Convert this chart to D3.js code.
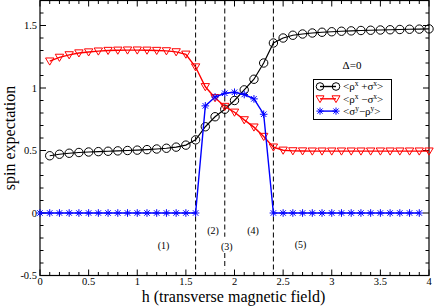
<!DOCTYPE html>
<html><head><meta charset="utf-8">
<script src="https://cdn.jsdelivr.net/npm/d3@7"></script>
<style>body{margin:0;background:#fff}svg{display:block}text{font-family:"Liberation Serif","Times New Roman",serif}</style>
</head><body><svg id="c" width="436" height="306"></svg>
<script>
const hCircle = [0.1,0.2,0.3,0.4,0.5,0.6,0.7,0.8,0.9,1.0,1.1,1.2,1.3,1.4,1.5,1.6,1.7,1.8,1.9,2.0,2.1,2.2,2.3,2.4,2.5,2.6,2.7,2.8,2.9,3.0,3.1,3.2,3.3,3.4,3.5,3.6,3.7,3.8,3.9,4.0];
const sumX = [0.458,0.47,0.478,0.484,0.488,0.491,0.494,0.497,0.5,0.503,0.507,0.512,0.518,0.527,0.543,0.585,0.69,0.77,0.83,0.90,0.985,1.07,1.2,1.36,1.40,1.422,1.432,1.44,1.446,1.45,1.454,1.457,1.46,1.462,1.464,1.466,1.468,1.47,1.471,1.473];
const diffX = [1.215,1.245,1.265,1.28,1.288,1.295,1.3,1.302,1.303,1.303,1.302,1.3,1.297,1.289,1.27,1.168,1.01,0.922,0.852,0.806,0.745,0.687,0.612,0.527,0.502,0.497,0.496,0.495,0.495,0.495,0.495,0.495,0.495,0.495,0.495,0.495,0.495,0.495,0.495,0.495];
const hStar = [0,0.1,0.2,0.3,0.4,0.5,0.6,0.7,0.8,0.9,1.0,1.1,1.2,1.3,1.4,1.5,1.6,1.7,1.8,1.9,2.0,2.1,2.2,2.3,2.4,2.5,2.6,2.7,2.8,2.9,3.0,3.1,3.2,3.3,3.4,3.5,3.6,3.7,3.8,3.9];
const diffY = [0,0,0,0,0,0,0,0,0,0,0,0,0,0,0,0,0,0.857,0.928,0.958,0.966,0.948,0.913,0.79,0,0,0,0,0,0,0,0,0,0,0,0,0,0,0,0];
const vLines = [1.6,1.9,2.4];
const regionLabels = [{t:"(1)",x:1.27,y:-0.26},{t:"(2)",x:1.78,y:-0.14},{t:"(3)",x:1.92,y:-0.265},{t:"(4)",x:2.19,y:-0.14},{t:"(5)",x:2.68,y:-0.255}];
const xTicks = [0,0.5,1,1.5,2,2.5,3,3.5,4];
const xTickLabels = ["0","0.5","1","1.5","2","2.5","3","3.5","4"];
const yTicks = [-0.5,0,0.5,1,1.5];
const yTickLabels = ["-0.5","0","0.5","1","1.5"];

const svg = d3.select("#c");
const L=40, R=429, T=0.5, B=275.5;
const x = d3.scaleLinear().domain([0,4]).range([L,R]);
const y = d3.scaleLinear().domain([-0.5,1.7]).range([B,T]);

// frame
svg.append("rect").attr("x",L).attr("y",T).attr("width",R-L).attr("height",B-T).attr("fill","none").attr("stroke","#000").attr("stroke-width",1.2);

// ticks
const xMinor = d3.range(0,4.001,0.1).filter(v=>Math.abs(v*2-Math.round(v*2))>1e-6);
const yMinor = d3.range(-0.5,1.7001,0.1).filter(v=>Math.abs(v*2-Math.round(v*2))>1e-6);
const tg = svg.append("g").attr("stroke","#000").attr("stroke-width",1);
xTicks.forEach(v=>{tg.append("line").attr("x1",x(v)).attr("x2",x(v)).attr("y1",B).attr("y2",B-6);tg.append("line").attr("x1",x(v)).attr("x2",x(v)).attr("y1",T).attr("y2",T+6);});
xMinor.forEach(v=>{tg.append("line").attr("x1",x(v)).attr("x2",x(v)).attr("y1",B).attr("y2",B-3.5);tg.append("line").attr("x1",x(v)).attr("x2",x(v)).attr("y1",T).attr("y2",T+3.5);});
yTicks.forEach(v=>{tg.append("line").attr("x1",L).attr("x2",L+6).attr("y1",y(v)).attr("y2",y(v));tg.append("line").attr("x1",R).attr("x2",R-6).attr("y1",y(v)).attr("y2",y(v));});
yMinor.forEach(v=>{tg.append("line").attr("x1",L).attr("x2",L+3.5).attr("y1",y(v)).attr("y2",y(v));tg.append("line").attr("x1",R).attr("x2",R-3.5).attr("y1",y(v)).attr("y2",y(v));});

// tick labels
xTicks.forEach((v,i)=>svg.append("text").attr("x",x(v)).attr("y",285).attr("text-anchor","middle").attr("font-size",10.5).text(xTickLabels[i]));
yTicks.forEach((v,i)=>svg.append("text").attr("x",37).attr("y",y(v)+3.6).attr("text-anchor","end").attr("font-size",10.5).text(yTickLabels[i]));

// axis titles
svg.append("text").attr("x",233.5).attr("y",302).attr("text-anchor","middle").attr("font-size",16).text("h (transverse magnetic field)");
svg.append("text").attr("transform",`translate(15,${(T+B)/2}) rotate(-90)`).attr("text-anchor","middle").attr("font-size",16).text("spin expectation");

// dashed lines (the h=1.9 line is interrupted by the "(3)" label and stops short of the axis)
vLines.forEach(v=>{
  const segs = v===1.9 ? [[T,y(-0.19)],[y(-0.32),y(-0.45)]] : [[T,B]];
  segs.forEach(s=>svg.append("line").attr("x1",x(v)).attr("x2",x(v)).attr("y1",s[0]).attr("y2",s[1]).attr("stroke","#000").attr("stroke-width",1).attr("stroke-dasharray","5,3"));
});

// region labels
regionLabels.forEach(d=>svg.append("text").attr("x",x(d.x)).attr("y",y(d.y)+3.5).attr("text-anchor","middle").attr("font-size",10).text(d.t));

const line = d3.line();
function star(g,cx,cy,s,col){
  const p = g.append("g").attr("stroke",col).attr("stroke-width",1);
  p.append("line").attr("x1",cx-s).attr("x2",cx+s).attr("y1",cy).attr("y2",cy);
  p.append("line").attr("x1",cx).attr("x2",cx).attr("y1",cy-s).attr("y2",cy+s);
  const d=s*0.72;
  p.append("line").attr("x1",cx-d).attr("x2",cx+d).attr("y1",cy-d).attr("y2",cy+d);
  p.append("line").attr("x1",cx-d).attr("x2",cx+d).attr("y1",cy+d).attr("y2",cy-d);
}
function tri(g,cx,cy,s,col){
  g.append("path").attr("d",`M${cx-s},${cy-s*0.75}L${cx+s},${cy-s*0.75}L${cx},${cy+s*0.95}Z`).attr("fill","none").attr("stroke",col).attr("stroke-width",1);
}

// black circles series
const gB = svg.append("g");
gB.append("path").attr("d",line(hCircle.map((h,i)=>[x(h),y(sumX[i])]))).attr("fill","none").attr("stroke","#000").attr("stroke-width",1.2);
hCircle.forEach((h,i)=>gB.append("circle").attr("cx",x(h)).attr("cy",y(sumX[i])).attr("r",4.2).attr("fill","none").attr("stroke","#000").attr("stroke-width",1));

// red triangles
const gR = svg.append("g");
gR.append("path").attr("d",line(hCircle.map((h,i)=>[x(h),y(diffX[i])]))).attr("fill","none").attr("stroke","#ff0000").attr("stroke-width",1.4);
hCircle.forEach((h,i)=>tri(gR,x(h),y(diffX[i]),4.2,"#ff0000"));

// blue stars
const gS = svg.append("g");
gS.append("path").attr("d",line(hStar.map((h,i)=>[x(h),y(diffY[i])]))).attr("fill","none").attr("stroke","#0000ff").attr("stroke-width",1.4);
hStar.forEach((h,i)=>star(gS,x(h),y(diffY[i]),3.8,"#0000ff"));

// delta label
svg.append("text").attr("x",352).attr("y",69).attr("text-anchor","middle").attr("font-size",11).text("\u0394=0");

// legend
const lg = svg.append("g");
lg.append("rect").attr("x",313.5).attr("y",79.5).attr("width",78).attr("height",40).attr("fill","#fff").attr("stroke","#000").attr("stroke-width",1);
const leg = [{c:"#000",m:"c",parts:[["<\u03c1",""],["x","sup"],[" +\u03c3",""],["x","sup"],[">",""]]},
             {c:"#ff0000",m:"t",parts:[["<\u03c1",""],["x","sup"],[" \u2212\u03c3",""],["x","sup"],[">",""]]},
             {c:"#0000ff",m:"s",parts:[["<\u03c3",""],["y","sup"],["\u2212\u03c1",""],["y","sup"],[">",""]]}];
leg.forEach((d,i)=>{
  const yy = 86.5 + i*12.3;
  lg.append("line").attr("x1",320).attr("x2",336).attr("y1",yy).attr("y2",yy).attr("stroke",d.c).attr("stroke-width",1.4);
  [320,336].forEach(cx=>{
    if(d.m==="c") lg.append("circle").attr("cx",cx).attr("cy",yy).attr("r",3.8).attr("fill","none").attr("stroke",d.c);
    else if(d.m==="t") tri(lg,cx,yy,4,d.c);
    else star(lg,cx,yy,3.6,d.c);
  });
  const t = lg.append("text").attr("x",343).attr("y",yy+3.8).attr("font-size",11);
  d.parts.forEach((p,k)=>{
    const ts = t.append("tspan").text(p[0]);
    if(p[1]==="sup") ts.attr("font-size",7.5).attr("dy",-4);
    else if(k>0) ts.attr("dy",4);
  });
});
</script></body></html>
